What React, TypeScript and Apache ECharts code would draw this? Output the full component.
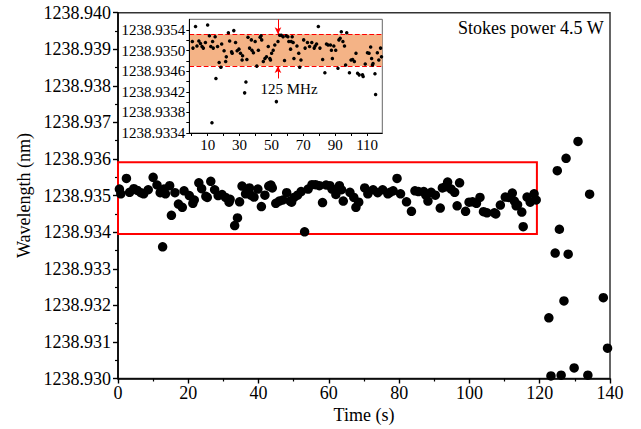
import { useEffect, useRef } from "react";
import * as echarts from "echarts";

// Stable region (0–120 s): time (s) and wavelength (nm)
const TIME = [
  0.4, 0.8, 2.4, 3.3, 4.5, 5.5, 6.5, 7.3, 8.6, 10.0, 11.1, 12.0, 12.7, 13.1, 13.5, 14.7, 15.2, 16.2, 17.2, 18.3,
  18.8, 20.3, 21.3, 21.7, 23.0, 23.8, 25.0, 25.4, 26.4, 27.5, 28.5, 29.6, 30.6, 31.6, 31.9, 33.2, 34.0, 34.6, 35.3, 36.3,
  37.4, 37.8, 38.7, 39.8, 40.8, 41.8, 42.9, 43.5, 43.9, 44.9, 45.9, 46.9, 48.0, 49.0, 49.4, 50.1, 51.1, 52.1, 53.1, 54.1,
  55.2, 56.2, 57.3, 58.2, 59.2, 60.3, 60.9, 62.4, 62.0, 63.0, 63.6, 64.1, 66.0, 67.1, 67.7, 68.5, 70.2, 71.1, 72.6, 73.9,
  75.3, 76.8, 77.4, 78.3, 79.4, 80.4, 82.1, 83.5, 84.5, 85.5, 87.0, 87.6, 88.2, 89.1, 90.3, 91.7, 92.3, 93.1, 93.8, 94.8,
  95.8, 96.5, 97.2, 98.9, 99.9, 100.9, 102.0, 103.0, 104.0, 105.0, 107.1, 107.5, 108.8, 110.2, 111.2, 112.2, 112.8, 113.3, 113.7, 114.9,
  115.3, 116.4, 117.3, 118.4, 119.0,
];
const WAVELENGTH = [
  1238.93518, 1238.93505, 1238.93547, 1238.93509, 1238.93519, 1238.93514, 1238.93508, 1238.93505, 1238.93516, 1238.9355,
  1238.93529, 1238.93508, 1238.9336, 1238.93518, 1238.93505, 1238.93527, 1238.93446, 1238.93508, 1238.93477, 1238.93468,
  1238.93513, 1238.935, 1238.93479, 1238.93488, 1238.93535, 1238.93519, 1238.93498, 1238.93495, 1238.93539, 1238.93516,
  1238.935, 1238.93503, 1238.93495, 1238.93482, 1238.9349, 1238.93418, 1238.93439, 1238.93483, 1238.93526, 1238.93505,
  1238.93521, 1238.93501, 1238.93496, 1238.93518, 1238.9347, 1238.93501, 1238.93526, 1238.93529, 1238.93521, 1238.93479,
  1238.93485, 1238.93488, 1238.93508, 1238.93485, 1238.93482, 1238.93495, 1238.93501, 1238.93511, 1238.93401, 1238.93518,
  1238.9353, 1238.9353, 1238.93527, 1238.93481, 1238.93529, 1238.93527, 1238.93518, 1238.93518, 1238.93503, 1238.93527,
  1238.93516, 1238.93485, 1238.93509, 1238.93495, 1238.93468, 1238.93482, 1238.93521, 1238.93505, 1238.93516, 1238.93508,
  1238.93516, 1238.93505, 1238.93509, 1238.93513, 1238.93547, 1238.93505, 1238.93483, 1238.93457, 1238.93513, 1238.93511,
  1238.93511, 1238.93501, 1238.93485, 1238.93509, 1238.93501, 1238.93466, 1238.93521, 1238.93524, 1238.93537, 1238.93518,
  1238.93509, 1238.93472, 1238.93535, 1238.93457, 1238.93482, 1238.93483, 1238.93479, 1238.93495, 1238.93456, 1238.93453,
  1238.93453, 1238.9345, 1238.93474, 1238.93496, 1238.93495, 1238.93507, 1238.93485, 1238.93472, 1238.93475, 1238.93455,
  1238.93415, 1238.93496, 1238.93482, 1238.93505, 1238.93488,
];

// Unstable region (after 120 s)
const TAIL_TIME = [122.6, 123.2, 124.4, 125.0, 125.6, 126.1, 126.9, 127.5, 128.1, 129.8, 130.9, 133.7, 134.2, 138.1, 139.3];
const TAIL_WAVELENGTH = [
  1238.93166, 1238.93007, 1238.93343, 1238.93568, 1238.93408, 1238.93009, 1238.93212, 1238.93602, 1238.9334, 1238.93029,
  1238.93648, 1238.93009, 1238.93504, 1238.93221, 1238.93083,
];

// Main axes
const MAIN_X = { min: 0, max: 140, interval: 20 };
const MAIN_Y = { min: 1238.93, max: 1238.94, interval: 0.001 };
// Red highlight box (data coordinates)
const BOX_T = [0, 119.2];
const BOX_W = [1238.93395, 1238.93591];

// Inset axes
const INSET_X = { min: -1.5, max: 119.5 };
const INSET_X_LABELS = [10, 30, 50, 70, 90, 110];
const INSET_X_TICKS = [0, 10, 20, 30, 40, 50, 60, 70, 80, 90, 100, 110];
const INSET_Y = { min: 1238.9334, max: 1238.93561 };
const INSET_Y_LABELS = [1238.9334, 1238.9338, 1238.9342, 1238.9346, 1238.935, 1238.9354];
const INSET_Y_TICKS = [
  1238.9334, 1238.9336, 1238.9338, 1238.934, 1238.9342, 1238.9344, 1238.9346, 1238.9348, 1238.935, 1238.9352, 1238.9354,
];
// 125 MHz band
const BAND = [1238.9347, 1238.93532];
const ARROW_T = 54.1;
const ARROW_BOTTOM_START = 1238.93446;

const FONT = "'Liberation Serif', 'Times New Roman', serif";

export default function App() {
  const ref = useRef<HTMLDivElement>(null);
  useEffect(() => {
    const chart = echarts.init(ref.current!, null, { renderer: "svg" });
    const mainData = TIME.map((t, i) => [t, WAVELENGTH[i]]).concat(TAIL_TIME.map((t, i) => [t, TAIL_WAVELENGTH[i]]));
    const insetData = TIME.map((t, i) => [t, WAVELENGTH[i]]);
    const black = "#000";
    const dashed = { type: "dashed", width: 1.2, color: "#ff0000" };
    const solid = { type: "solid", width: 1, color: "#ff0000" };
    chart.setOption({
      animation: false,
      backgroundColor: "#fff",
      textStyle: { fontFamily: FONT },
      grid: [
        {
          left: 118,
          right: 31,
          top: 12.7,
          bottom: 50.5,
          show: true,
          borderColor: "#333",
          borderWidth: 1.5,
          outerBoundsMode: "none",
          containLabel: false,
        },
        {
          left: 189.3,
          top: 19.3,
          width: 193,
          height: 113.7,
          show: true,
          backgroundColor: "#fff",
          borderColor: "#666",
          borderWidth: 1,
          outerBoundsMode: "none",
          containLabel: false,
        },
      ],
      xAxis: [
        {
          type: "value",
          gridIndex: 0,
          min: MAIN_X.min,
          max: MAIN_X.max,
          interval: MAIN_X.interval,
          splitLine: { show: false },
          axisLine: { onZero: false, lineStyle: { color: black, width: 1.6 } },
          axisTick: { length: 5, lineStyle: { color: black, width: 1.4 } },
          minorTick: { show: true, splitNumber: 2, length: 3, lineStyle: { color: black, width: 1.2 } },
          axisLabel: { color: black, fontSize: 18, fontFamily: FONT, margin: 5 },
          name: "Time (s)",
          nameLocation: "middle",
          nameGap: 22,
          nameTextStyle: { color: black, fontSize: 18, fontFamily: FONT },
        },
        {
          type: "value",
          gridIndex: 1,
          min: INSET_X.min,
          max: INSET_X.max,
          splitLine: { show: false },
          axisLine: { onZero: false, lineStyle: { color: black, width: 1 } },
          axisTick: { show: true, length: 3, customValues: INSET_X_TICKS, lineStyle: { color: black, width: 1 } },
          axisLabel: {
            color: black,
            fontSize: 15,
            fontFamily: FONT,
            margin: 4,
            customValues: INSET_X_LABELS,
            formatter: (v: number) => String(Math.round(v)),
          },
          z: 6,
        },
      ],
      yAxis: [
        {
          type: "value",
          gridIndex: 0,
          min: MAIN_Y.min,
          max: MAIN_Y.max,
          interval: MAIN_Y.interval,
          splitLine: { show: false },
          axisLine: { onZero: false, lineStyle: { color: black, width: 1.6 } },
          axisTick: { length: 5, lineStyle: { color: black, width: 1.4 } },
          minorTick: { show: true, splitNumber: 2, length: 3, lineStyle: { color: black, width: 1.2 } },
          axisLabel: {
            color: black,
            fontSize: 18,
            fontFamily: FONT,
            margin: 7,
            formatter: (v: number) => v.toFixed(3),
          },
          name: "Wavelength (nm)",
          nameLocation: "middle",
          nameGap: 83,
          nameTextStyle: { color: black, fontSize: 18, fontFamily: FONT },
        },
        {
          type: "value",
          gridIndex: 1,
          min: INSET_Y.min,
          max: INSET_Y.max,
          splitLine: { show: false },
          axisLine: { onZero: false, lineStyle: { color: black, width: 1 } },
          axisTick: { show: true, length: 3, customValues: INSET_Y_TICKS, lineStyle: { color: black, width: 1 } },
          axisLabel: {
            color: black,
            fontSize: 15,
            fontFamily: FONT,
            margin: 4,
            customValues: INSET_Y_LABELS,
            formatter: (v: number) => v.toFixed(4),
          },
          z: 6,
        },
      ],
      series: [
        {
          type: "scatter",
          xAxisIndex: 0,
          yAxisIndex: 0,
          data: mainData,
          symbolSize: 9.5,
          itemStyle: { color: black, opacity: 1 },
          markArea: {
            silent: true,
            itemStyle: { color: "rgba(0,0,0,0)", borderColor: "#ff0000", borderWidth: 2 },
            data: [[{ coord: [BOX_T[0], BOX_W[0]] }, { coord: [BOX_T[1], BOX_W[1]] }]],
          },
        },
        {
          type: "scatter",
          xAxisIndex: 1,
          yAxisIndex: 1,
          data: insetData,
          symbolSize: 3.5,
          itemStyle: { color: black, opacity: 1 },
          z: 7,
          markArea: {
            silent: true,
            z: 3,
            itemStyle: { color: "#F4B386", borderWidth: 0, opacity: 1 },
            data: [[{ coord: [INSET_X.min, BAND[0]] }, { coord: [INSET_X.max, BAND[1]] }]],
          },
          markLine: {
            silent: true,
            symbol: ["none", "none"],
            label: { show: false },
            lineStyle: dashed,
            data: [
              [
                { coord: [INSET_X.min, BAND[0]], lineStyle: dashed },
                { coord: [INSET_X.max, BAND[0]] },
              ],
              [
                { coord: [INSET_X.min, BAND[1]], lineStyle: dashed },
                { coord: [INSET_X.max, BAND[1]] },
              ],
              [
                { coord: [ARROW_T, INSET_Y.max], symbol: "none", lineStyle: solid },
                { coord: [ARROW_T, BAND[1]], symbol: "arrow", symbolSize: [5, 7] },
              ],
              [
                { coord: [ARROW_T, ARROW_BOTTOM_START], symbol: "none", lineStyle: solid },
                { coord: [ARROW_T, BAND[0]], symbol: "arrow", symbolSize: [5, 7] },
              ],
            ],
          },
        },
      ],
      graphic: [
        {
          type: "text",
          right: 37,
          top: 19,
          style: { text: "Stokes power 4.5 W", fill: black, font: `18px ${FONT}` },
        },
        {
          type: "text",
          x: 289,
          y: 89,
          z: 20,
          style: {
            text: "125 MHz",
            fill: black,
            font: `15px ${FONT}`,
            align: "center",
            verticalAlign: "middle",
          },
        },
      ],
    });
    return () => chart.dispose();
  }, []);
  return (
    <div
      ref={ref}
      style={{ position: "fixed", left: 0, top: 0, width: 641, height: 429, background: "#fff" }}
    />
  );
}
